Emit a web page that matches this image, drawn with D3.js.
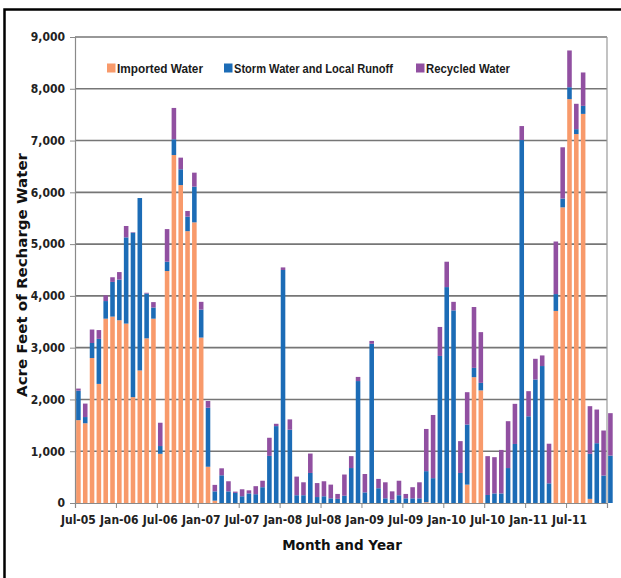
<!DOCTYPE html>
<html>
<head>
<meta charset="utf-8">
<script src="https://cdn.jsdelivr.net/npm/d3@7"></script>
<style>
  body { margin: 0; background: #fff; }
  svg { display: block; }
  .tick text { font-family: "Liberation Sans Narrow", "DejaVu Sans Condensed", "Liberation Sans", sans-serif; font-weight: bold; fill: #222; }
</style>
</head>
<body>
<div id="chart"></div>
<script>
// Monthly recharge, Jul-05 .. Jan-12 (last bar spills past the frame, as in the source)
const months = [
  "Jul-05","Aug-05","Sep-05","Oct-05","Nov-05","Dec-05",
  "Jan-06","Feb-06","Mar-06","Apr-06","May-06","Jun-06","Jul-06","Aug-06","Sep-06","Oct-06","Nov-06","Dec-06",
  "Jan-07","Feb-07","Mar-07","Apr-07","May-07","Jun-07","Jul-07","Aug-07","Sep-07","Oct-07","Nov-07","Dec-07",
  "Jan-08","Feb-08","Mar-08","Apr-08","May-08","Jun-08","Jul-08","Aug-08","Sep-08","Oct-08","Nov-08","Dec-08",
  "Jan-09","Feb-09","Mar-09","Apr-09","May-09","Jun-09","Jul-09","Aug-09","Sep-09","Oct-09","Nov-09","Dec-09",
  "Jan-10","Feb-10","Mar-10","Apr-10","May-10","Jun-10","Jul-10","Aug-10","Sep-10","Oct-10","Nov-10","Dec-10",
  "Jan-11","Feb-11","Mar-11","Apr-11","May-11","Jun-11","Jul-11","Aug-11","Sep-11","Oct-11","Nov-11","Dec-11",
  "Jan-12"
];

const importedWater = [
  1600, 1540, 2800, 2300, 3560, 3600,
  3530, 3465, 2045, 2560, 3180, 3560, 950, 4480, 6720, 6140, 5250, 5420,
  3195, 700, 45, 0, 0, 0, 0, 0, 0, 0, 0, 0,
  0, 0, 0, 0, 0, 0, 0, 0, 0, 0, 0, 0,
  0, 0, 0, 0, 0, 0, 0, 0, 0, 15, 0, 0,
  0, 0, 0, 355, 2430, 2175, 0, 0, 0, 0, 0, 0,
  0, 0, 0, 0, 3710, 5710, 7800, 7125, 7515, 80, 0, 0,
  0
];

const stormWater = [
  570, 120, 290, 870, 340, 670,
  785, 1665, 3175, 3330, 865, 215, 150, 180, 305, 305, 280, 690,
  540, 1140, 180, 535, 225, 195, 130, 185, 170, 305, 910, 1485,
  4500, 1415, 150, 150, 580, 115, 130, 90, 80, 140, 675, 2355,
  205, 3075, 285, 90, 65, 150, 90, 90, 90, 600, 480, 2840,
  4170, 3720, 580, 1160, 180, 145, 155, 185, 185, 675, 1140, 7010,
  1675, 2385, 2645, 380, 325, 170, 230, 95, 155, 870, 1155, 530,
  915
];

const recycledWater = [
  40, 260, 260, 170, 110, 90,
  145, 220, 10, 0, 15, 105, 450, 630, 605, 225, 110, 270,
  150, 130, 125, 135, 195, 25, 135, 60, 155, 125, 350, 45,
  50, 200, 360, 250, 375, 270, 290, 265, 95, 410, 230, 80,
  355, 55, 180, 310, 160, 280, 85, 215, 310, 815, 1220, 560,
  490, 165, 615, 625, 1175, 980, 750, 700, 840, 905, 775, 270,
  485, 400, 205, 765, 1015, 990, 710, 490, 645, 920, 650, 870,
  820
];

const seriesNames = ["Imported Water", "Storm Water and Local Runoff", "Recycled Water"];
const seriesColors = ["#F89A6B", "#1C6CB6", "#9150A1"];
const yTicks = [0, 1000, 2000, 3000, 4000, 5000, 6000, 7000, 8000, 9000];
const xTickLabels = ["Jul-05","Jan-06","Jul-06","Jan-07","Jul-07","Jan-08","Jul-08","Jan-09","Jul-09","Jan-10","Jul-10","Jan-11","Jul-11"];

const W = 621, H = 578;
const plot = { left: 75, top: 37, right: 607, bottom: 503 };
const framedMonths = 78;
const step = (plot.right - plot.left) / framedMonths;

const svg = d3.select("#chart").append("svg")
  .attr("width", W).attr("height", H)
  .attr("viewBox", `0 0 ${W} ${H}`);

svg.append("rect").attr("width", W).attr("height", H).attr("fill", "#fff");

// outer black frame (cut off on right/bottom in the source image)
svg.append("rect")
  .attr("x", 4.5).attr("y", 9.5)
  .attr("width", 700).attr("height", 700)
  .attr("fill", "none").attr("stroke", "#000").attr("stroke-width", 2.5);

const x = d3.scaleBand()
  .domain(months)
  .range([plot.left, plot.left + step * months.length])
  .paddingInner(0.33).paddingOuter(0.165);

const y = d3.scaleLinear().domain([0, 9000]).range([plot.bottom, plot.top]);

// gridlines
svg.append("g").selectAll("line")
  .data(yTicks.filter(d => d > 0))
  .join("line")
  .attr("x1", plot.left).attr("x2", plot.right)
  .attr("y1", d => y(d)).attr("y2", d => y(d))
  .attr("stroke", "#767676").attr("stroke-width", 1.6);

// right frame edge
svg.append("line")
  .attr("x1", plot.right).attr("x2", plot.right)
  .attr("y1", plot.top).attr("y2", plot.bottom)
  .attr("stroke", "#9a9a9a").attr("stroke-width", 1.2);

// stacked bars
const table = months.map((m, i) => ({
  month: m,
  imported: importedWater[i],
  storm: stormWater[i],
  recycled: recycledWater[i]
}));
const keys = ["imported", "storm", "recycled"];
const stacked = d3.stack().keys(keys)(table);

svg.append("g").selectAll("g")
  .data(stacked)
  .join("g")
  .attr("fill", (d, i) => seriesColors[i])
  .selectAll("rect")
  .data(d => d)
  .join("rect")
  .attr("x", d => x(d.data.month))
  .attr("width", x.bandwidth())
  .attr("y", d => y(d[1]))
  .attr("height", d => Math.max(0, y(d[0]) - y(d[1])));

// y axis
const yAxis = svg.append("g")
  .attr("transform", `translate(${plot.left},0)`)
  .call(d3.axisLeft(y).tickValues(yTicks).tickFormat(d3.format(",")).tickSize(5).tickPadding(5));
yAxis.select(".domain").attr("stroke", "#8a8a8a").attr("stroke-width", 1.2);
yAxis.selectAll(".tick line").attr("stroke", "#8a8a8a");
yAxis.selectAll(".tick text").attr("font-size", 12);

// x axis: tick marks on 6-month boundaries, labels under first month of each group
const xi = d3.scaleLinear().domain([0, framedMonths]).range([plot.left, plot.right]);
const tickMarks = svg.append("g")
  .attr("transform", `translate(0,${plot.bottom})`)
  .call(d3.axisBottom(xi).tickValues(d3.range(0, framedMonths + 1, 6)).tickSize(5).tickFormat(""));
tickMarks.select(".domain").attr("stroke", "#8a8a8a").attr("stroke-width", 1.2);
tickMarks.selectAll(".tick line").attr("stroke", "#8a8a8a");

const xLabels = svg.append("g")
  .attr("transform", `translate(0,${plot.bottom})`)
  .call(d3.axisBottom(x).tickValues(xTickLabels).tickSize(0).tickPadding(12));
xLabels.select(".domain").remove();
xLabels.selectAll(".tick text").attr("font-size", 12);

// legend
const legendX = [107, 224, 416];
const legendTextW = [86, 159, 84];
const legend = svg.append("g").attr("transform", "translate(0,68)");
seriesNames.forEach((name, i) => {
  legend.append("rect")
    .attr("x", legendX[i]).attr("y", -4.5)
    .attr("width", 8.5).attr("height", 9)
    .attr("fill", seriesColors[i]);
  legend.append("text")
    .attr("x", legendX[i] + 10).attr("y", 4.5)
    .attr("textLength", legendTextW[i]).attr("lengthAdjust", "spacingAndGlyphs")
    .attr("font-family", "Liberation Sans, Arial, sans-serif")
    .attr("font-weight", "bold").attr("font-size", 13).attr("fill", "#1a1a1a")
    .text(name);
});

// axis titles
svg.append("text")
  .attr("x", 342).attr("y", 550)
  .attr("text-anchor", "middle")
  .attr("font-family", "DejaVu Sans, Verdana, sans-serif")
  .attr("font-weight", "bold").attr("font-size", 13.5).attr("fill", "#111")
  .text("Month and Year");

svg.append("text")
  .attr("transform", "translate(27,275) rotate(-90)")
  .attr("text-anchor", "middle")
  .attr("textLength", 244).attr("lengthAdjust", "spacingAndGlyphs")
  .attr("font-family", "DejaVu Sans, Verdana, sans-serif")
  .attr("font-weight", "bold").attr("font-size", 14).attr("fill", "#111")
  .text("Acre Feet of Recharge Water");
</script>
</body>
</html>
